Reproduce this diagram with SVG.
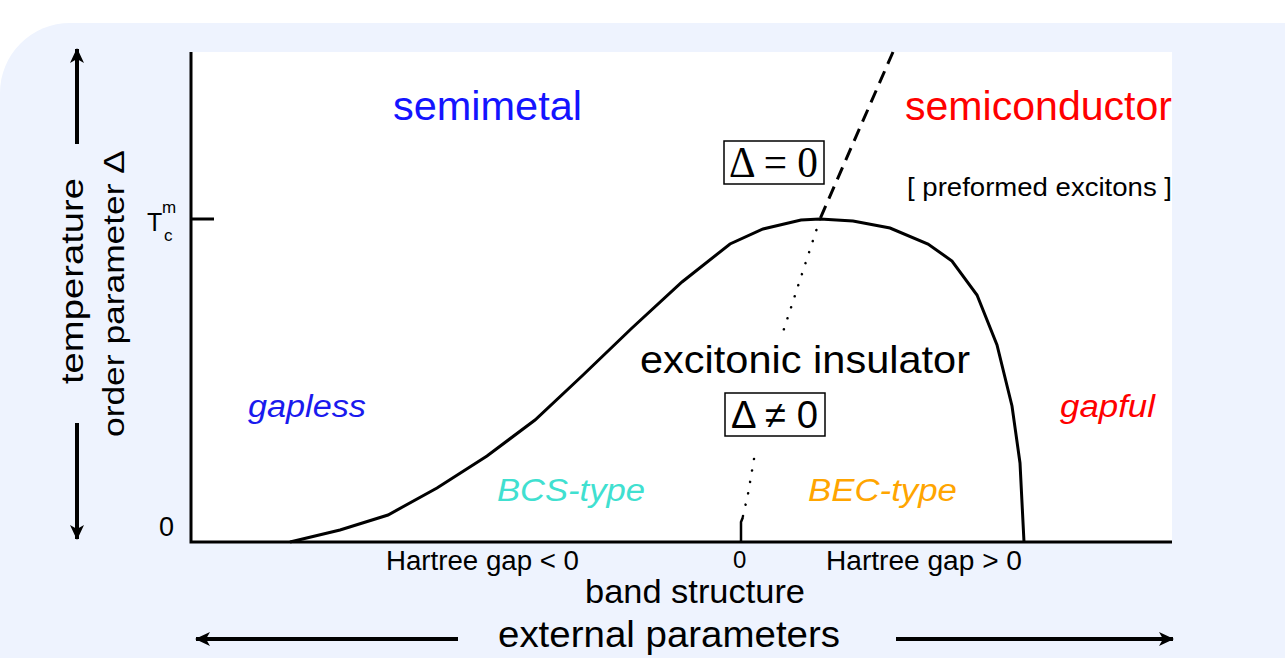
<svg xmlns="http://www.w3.org/2000/svg" width="1285" height="658" viewBox="0 0 1285 658">
<defs>
<style>
text{font-family:"Liberation Sans",Arial,sans-serif;fill:#000}
.it{font-style:italic}
.ln{fill:none;stroke:#000;stroke-width:3}
.ar{fill:none;stroke:#000;stroke-width:4}
</style>
<marker id="ah" viewBox="0 0 16 16" refX="14" refY="8" markerWidth="16" markerHeight="16" markerUnits="userSpaceOnUse" orient="auto">
<path d="M0,1 L15,8 L0,15 L4,8 Z" fill="#000"/>
</marker>
</defs>
<rect width="1285" height="658" fill="#fff"/>
<path d="M0,658 V93 A70,70 0 0 1 70,23 H1285 V658 Z" fill="#eef3fe"/>
<g id="plot">
<rect x="191" y="52" width="981" height="490" fill="#fff"/>
<path class="ln" d="M191,52 V542 H1172"/>
<path class="ln" d="M191,219 H214"/>
</g>
<g id="connectors">
<path class="ar" d="M77,144 V49" marker-end="url(#ah)"/>
<path class="ar" d="M77,423 V539" marker-end="url(#ah)"/>
<path class="ar" d="M458,639 H196" marker-end="url(#ah)"/>
<path class="ar" d="M896,639 H1173" marker-end="url(#ah)"/>
<polyline class="ln" points="290,542 340,530 388,515 437,488 487,456 535,420 582,376 632,328 682,282 730,244 763,229 801,220 820,219 853,221 890,228 928,244 952,261 977,295 997,345 1012,406 1020,463 1024,542"/>
<path class="ln" d="M893,52 L820,219" stroke-dasharray="13 8"/>
<path d="M820,219 L800,280 L783,332" fill="none" stroke="#000" stroke-width="2.5" stroke-linecap="round" stroke-dasharray="0.1 11.5"/>
<path d="M754,459 L748,494 L743,516" fill="none" stroke="#000" stroke-width="2.5" stroke-linecap="round" stroke-dasharray="0.1 11.5"/>
<path d="M743,517 L741,522 V542" fill="none" stroke="#000" stroke-width="2.5"/>
</g>
<g id="axis-labels">
<text transform="translate(83,384) rotate(-90)" font-size="31" textLength="206" lengthAdjust="spacingAndGlyphs">temperature</text>
<text transform="translate(124,437) rotate(-90)" font-size="29" textLength="287" lengthAdjust="spacingAndGlyphs">order parameter  Δ</text>
<text x="147" y="231" font-size="25">T</text>
<text x="162" y="213" font-size="17">m</text>
<text x="164" y="241" font-size="17">c</text>
<text x="159" y="536" font-size="27">0</text>
<text x="386" y="570" font-size="27" textLength="193" lengthAdjust="spacingAndGlyphs">Hartree gap &lt; 0</text>
<text x="733" y="568" font-size="24">0</text>
<text x="826" y="570" font-size="27" textLength="196" lengthAdjust="spacingAndGlyphs">Hartree gap &gt; 0</text>
<text x="585" y="603" font-size="33" textLength="220" lengthAdjust="spacingAndGlyphs">band structure</text>
<text x="498" y="647" font-size="37" textLength="342" lengthAdjust="spacingAndGlyphs">external parameters</text>
</g>
<g id="semimetal">
<text x="393" y="120" font-size="41" style="fill:#1414ff" textLength="189" lengthAdjust="spacingAndGlyphs">semimetal</text>
</g>
<g id="semiconductor">
<text x="905" y="120" font-size="41" style="fill:#ff0000" textLength="267" lengthAdjust="spacingAndGlyphs">semiconductor</text>
<text x="907" y="196" font-size="26" textLength="265" lengthAdjust="spacingAndGlyphs">[ preformed excitons ]</text>
</g>
<g id="delta-zero">
<rect x="724" y="141" width="100" height="43" fill="#fff" stroke="#000" stroke-width="1.5"/>
<text x="729" y="177" font-size="44" style="font-family:'Liberation Serif','Times New Roman',serif" textLength="89" lengthAdjust="spacingAndGlyphs">Δ = 0</text>
</g>
<g id="excitonic-insulator">
<text x="640" y="373" font-size="39" textLength="330" lengthAdjust="spacingAndGlyphs">excitonic insulator</text>
<rect x="725" y="393" width="100" height="43" fill="#fff" stroke="#000" stroke-width="1.5"/>
<text x="731" y="428" font-size="38" textLength="87" lengthAdjust="spacingAndGlyphs">Δ ≠ 0</text>
</g>
<g id="gapless"><text x="248" y="417" font-size="31" class="it" style="fill:#1a1aee" textLength="118" lengthAdjust="spacingAndGlyphs">gapless</text></g>
<g id="gapful"><text x="1060" y="417" font-size="31" class="it" style="fill:#ff0000" textLength="95" lengthAdjust="spacingAndGlyphs">gapful</text></g>
<g id="bcs"><text x="497" y="501" font-size="31" class="it" style="fill:#40e0d0" textLength="148" lengthAdjust="spacingAndGlyphs">BCS-type</text></g>
<g id="bec"><text x="808" y="501" font-size="31" class="it" style="fill:#ffa500" textLength="149" lengthAdjust="spacingAndGlyphs">BEC-type</text></g>
</svg>
